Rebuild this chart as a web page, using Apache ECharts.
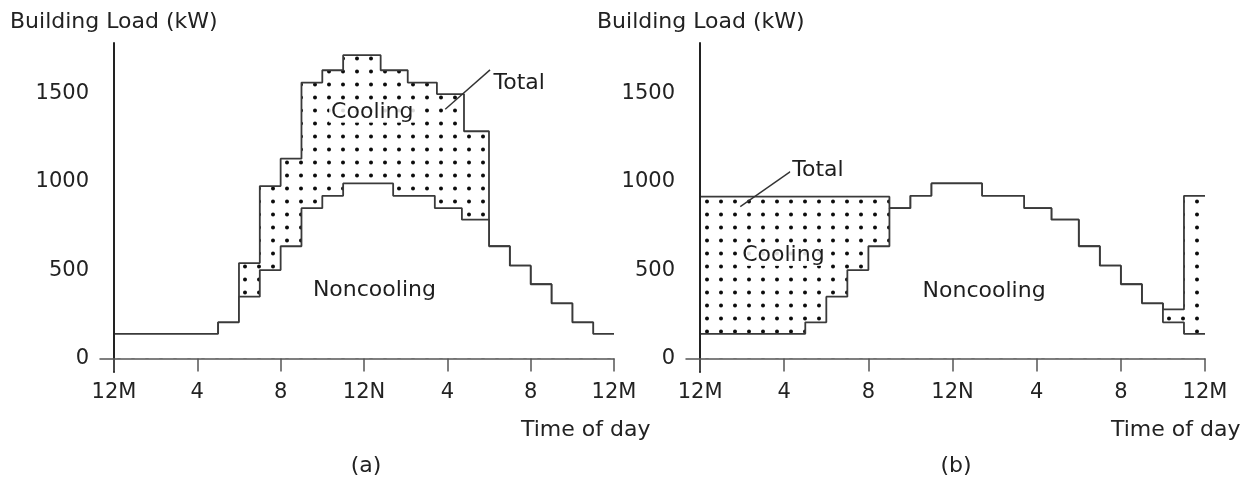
<!DOCTYPE html>
<html><head><meta charset="utf-8">
<script src="https://cdn.jsdelivr.net/npm/echarts@6/dist/echarts.min.js"></script>
<style>html,body{margin:0;padding:0;background:#fff}#c{width:1250px;height:489px}</style>
</head><body><div id="c"></div><script>
// ---- data ----
const hourTicks = [0, 4, 8, 12, 16, 20, 24];
const hourLabels = ['12M', '4', '8', '12N', '4', '8', '12M'];
const loadTicks = [0, 500, 1000, 1500];
// Noncooling load (step breakpoints in hours, and load of each segment in kW)
const noncoolHours = [0, 5, 6, 7, 8, 9, 10, 11, 13.4, 15.4, 16.7, 18, 19, 20, 21, 22, 23, 24];
const noncoolLoad  = [140, 205, 350, 500, 635, 850, 920, 990, 920, 850, 785, 635, 525, 420, 312, 205, 140];
// (a) Total load
const totalAHours = [0, 5, 6, 7, 8, 9, 10, 11, 12.8, 14.1, 15.5, 16.8, 18, 19, 20, 21, 22, 23, 24];
const totalALoad  = [140, 205, 540, 975, 1130, 1560, 1630, 1715, 1630, 1560, 1495, 1285, 635, 525, 420, 312, 205, 140];
// (b) Total load
const totalBHours = [0, 9, 10, 11, 13.4, 15.4, 16.7, 18, 19, 20, 21, 22, 23, 24];
const totalBLoad  = [915, 850, 920, 990, 920, 850, 785, 635, 525, 420, 312, 278, 920];
// annotation texts at data coordinates [hour, kW, text]
const notesA = [[12.4, 1395, 'Cooling'], [12.5, 387, 'Noncooling'], [19.45, 1555, 'Total']];
const notesB = [[3.96, 585, 'Cooling'], [13.5, 378, 'Noncooling'], [5.6, 1066, 'Total']];
// leader lines for "Total" [hour, kW] -> [hour, kW]
const leaderA = [[18.05, 1632], [15.9, 1410]];
const leaderB = [[4.29, 1057], [1.91, 859]];

// ---- helpers ----
function stepData(hours, loads) {
  return hours.map((h, i) => [h, loads[Math.min(i, loads.length - 1)]]);
}
function dotPattern(w, h, r) {
  const c = document.createElement('canvas');
  c.width = w; c.height = h;
  const g = c.getContext('2d');
  g.fillStyle = '#0d0d0d';
  g.beginPath(); g.arc(w / 2, h / 2, r, 0, Math.PI * 2); g.fill();
  return c;
}
const FONT = '"DejaVu Sans", "Liberation Sans", Arial, sans-serif';
const LINE = '#3a3a3a';
const pattern = { image: dotPattern(14, 13, 2.0), repeat: 'repeat' };

function xAx(gi) {
  return {
    type: 'value', gridIndex: gi, min: -0.67, max: 24, z: 10,
    axisLine: { onZero: true, lineStyle: { color: '#555', width: 1.5 } },
    axisTick: { show: true, customValues: hourTicks, length: 13, lineStyle: { color: '#555', width: 1.5 } },
    axisLabel: { customValues: hourTicks, formatter: v => hourLabels[hourTicks.indexOf(v)],
      margin: 10, fontSize: 21, fontFamily: FONT, color: '#222' },
    splitLine: { show: false }
  };
}
function yAx(gi) {
  return {
    type: 'value', gridIndex: gi, min: -76, max: 1784, z: 10,
    axisLine: { show: true, onZero: true, lineStyle: { color: '#222', width: 2 } },
    axisTick: { show: false },
    axisLabel: { customValues: loadTicks, formatter: v => String(v), margin: 11,
      fontSize: 21, fontFamily: FONT, color: '#222' },
    splitLine: { show: false }
  };
}
function panelSeries(gi, totHours, totLoad, notes, leader) {
  return [
    { type: 'line', xAxisIndex: gi, yAxisIndex: gi, step: 'end', symbol: 'none', z: 2,
      lineStyle: { color: LINE, width: 1.8 }, areaStyle: { color: pattern, opacity: 1 },
      data: stepData(totHours, totLoad) },
    { type: 'line', xAxisIndex: gi, yAxisIndex: gi, step: 'end', symbol: 'none', z: 3,
      lineStyle: { color: LINE, width: 1.8 }, areaStyle: { color: '#ffffff', opacity: 1 },
      data: stepData(noncoolHours, noncoolLoad) },
    { type: 'lines', coordinateSystem: 'cartesian2d', xAxisIndex: gi, yAxisIndex: gi, z: 4,
      lineStyle: { color: '#333', width: 1.4, opacity: 1 },
      data: [{ coords: leader }] },
    { type: 'scatter', xAxisIndex: gi, yAxisIndex: gi, symbolSize: 1, z: 5,
      itemStyle: { color: 'rgba(0,0,0,0)' },
      label: { show: true, position: 'inside', formatter: p => p.value[2],
        fontSize: 22, fontFamily: FONT, color: '#1e1e1e', opacity: 1,
        textBorderWidth: 0, backgroundColor: 'rgba(255,255,255,0.85)', padding: [0, 2] },
      data: notes }
  ];
}
function txt(text, x, y, align) {
  return { type: 'text', z: 20, style: { text: text, x: x, y: y, fill: '#222',
    font: '22px ' + FONT, align: align, textAlign: align, verticalAlign: 'middle', textVerticalAlign: 'middle' } };
}

const chart = echarts.init(document.getElementById('c'));
chart.setOption({
  animation: false,
  backgroundColor: '#fff',
  grid: [
    { left: 100, top: 43, width: 514, height: 329 },
    { left: 686, top: 43, width: 519, height: 329 }
  ],
  xAxis: [xAx(0), xAx(1)],
  yAxis: [yAx(0), yAx(1)],
  series: [
    ...panelSeries(0, totalAHours, totalALoad, notesA, leaderA),
    ...panelSeries(1, totalBHours, totalBLoad, notesB, leaderB)
  ],
  graphic: [
    txt('Building Load (kW)', 10, 22, 'left'),
    txt('Building Load (kW)', 597, 22, 'left'),
    txt('Time of day', 521, 430, 'left'),
    txt('Time of day', 1111, 430, 'left'),
    txt('(a)', 366, 466, 'center'),
    txt('(b)', 956, 466, 'center')
  ]
});
</script></body></html>
